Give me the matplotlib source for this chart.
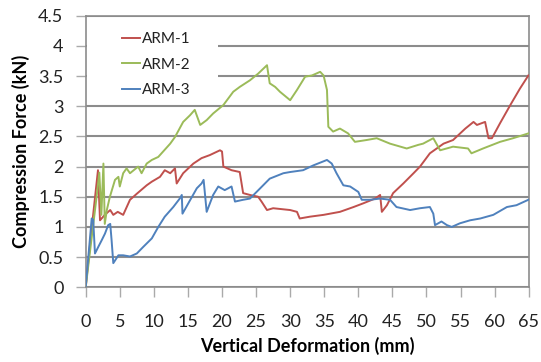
import matplotlib.pyplot as plt
from matplotlib.patches import Rectangle

plt.rcParams["font.family"] = ["Lato", "DejaVu Sans"]

# ARM-1 (deformation in mm, force in kN)
arm1_x = [0, 0.9, 1.8, 2.1, 2.8, 3.6, 4.05, 4.7, 5.5, 6.5, 7.5, 8.95, 9.7, 10.9, 11.6,
          12.4, 13.1, 13.35, 14.3, 15.8, 17.0, 18.2, 19.7, 20.0, 20.2, 21.4, 22.6, 23.1,
          24.1, 25.3, 25.8, 26.6, 27.5, 30.0, 31.0, 31.4, 32.9, 34.9, 37.3, 39.3, 40.7,
          42.45, 43.2, 43.45, 44.2, 45.1, 46.6, 48.1, 49.05, 50.5, 52.5, 53.9, 55.7,
          56.9, 57.4, 58.6, 59.1, 59.6, 60.8, 62.3, 63.7, 64.95]
arm1_y = [0, 1.0, 1.94, 1.11, 1.2, 1.28, 1.2, 1.25, 1.2, 1.45, 1.55, 1.69, 1.75, 1.83, 1.94,
          1.89, 1.97, 1.72, 1.89, 2.05, 2.14, 2.19, 2.27, 2.25, 2.0, 1.94, 1.91, 1.56,
          1.53, 1.5, 1.42, 1.28, 1.31, 1.28, 1.25, 1.14, 1.17, 1.2, 1.25, 1.33, 1.39,
          1.47, 1.53, 1.25, 1.36, 1.56, 1.72, 1.89, 2.0, 2.22, 2.38, 2.44, 2.63,
          2.74, 2.69, 2.74, 2.47, 2.47, 2.72, 3.02, 3.29, 3.51]

# ARM-2
arm2_x = [0, 1.6, 2.0, 2.3, 2.6, 2.8, 3.1, 3.55, 4.3, 4.8, 5.0, 5.5, 6.0, 6.5, 7.7, 8.2,
          8.95, 9.7, 10.65, 12.4, 13.1, 14.3, 15.3, 16.0, 16.8, 17.75, 18.7, 20.2, 21.65,
          22.6, 24.1, 25.3, 26.6, 27.0, 27.8, 28.5, 30.0, 31.0, 32.2, 33.2, 34.4, 34.9,
          35.4, 35.6, 36.3, 37.3, 38.5, 39.5, 41.2, 42.7, 44.65, 47.1, 48.8, 49.5, 51.0,
          52.0, 53.9, 56.1, 56.6, 58.3, 60.8, 62.7, 64.95]
arm2_y = [0, 1.5, 1.9, 1.2, 2.05, 1.05, 1.28, 1.5, 1.78, 1.83, 1.67, 1.89, 1.97, 1.89, 2.0, 1.89,
          2.05, 2.11, 2.16, 2.38, 2.49, 2.74, 2.85, 2.94, 2.69, 2.77, 2.88, 3.02, 3.24,
          3.32, 3.43, 3.54, 3.68, 3.38, 3.32, 3.24, 3.1, 3.27, 3.49, 3.51, 3.57, 3.51,
          3.27, 2.66, 2.58, 2.63, 2.55, 2.41, 2.44, 2.47, 2.38, 2.3, 2.36, 2.38, 2.47,
          2.27, 2.33, 2.3, 2.22, 2.3, 2.41, 2.47, 2.55]

# ARM-3
arm3_x = [0, 0.88, 1.1, 1.36, 1.85, 2.35, 2.83, 3.3, 3.6, 3.8, 4.05, 4.8, 5.5, 6.5, 7.5, 8.45,
          9.7, 10.65, 11.6, 12.85, 13.8, 14.1, 14.2, 16.3, 17.0, 17.3, 17.75, 18.7, 19.45,
          20.4, 21.4, 21.9, 23.1, 24.1, 25.6, 27.0, 29.0, 30.0, 31.9, 33.4, 35.4, 36.1,
          36.8, 37.8, 38.8, 40.0, 40.5, 41.7, 43.2, 44.65, 45.6, 47.6, 49.05, 50.5, 51.0,
          51.25, 52.2, 53.0, 53.7, 54.9, 56.4, 57.9, 59.8, 61.8, 63.2, 64.95]
arm3_y = [0, 1.14, 1.12, 0.56, 0.67, 0.78, 0.89, 1.03, 1.05, 0.78, 0.4, 0.53, 0.53, 0.51, 0.56, 0.67,
          0.81, 1.0, 1.17, 1.33, 1.47, 1.53, 1.22, 1.64, 1.72, 1.78, 1.25, 1.53, 1.67,
          1.61, 1.67, 1.42, 1.45, 1.47, 1.64, 1.8, 1.89, 1.91, 1.94, 2.02, 2.11, 2.05,
          1.89, 1.69, 1.67, 1.58, 1.45, 1.45, 1.47, 1.45, 1.33, 1.28, 1.31, 1.33, 1.22,
          1.03, 1.09, 1.03, 1.0, 1.06, 1.11, 1.14, 1.2, 1.33, 1.36, 1.45]

labels = ["ARM-1", "ARM-2", "ARM-3"]
colors = ["#C0504D", "#9BBB59", "#4F81BD"]
grid_color = "#8c8c8c"

fig = plt.figure(figsize=(5.41, 3.62), dpi=100)
ax = fig.add_axes([0.1584, 0.2064, 0.8189, 0.7502])

for xs, ys, lab, c in zip([arm1_x, arm2_x, arm3_x], [arm1_y, arm2_y, arm3_y], labels, colors):
    ax.plot(xs, ys, color=c, lw=1.4, label=lab, zorder=3)

ax.set_xlim(0, 65)
ax.set_ylim(0, 4.5)
ax.set_xticks(range(0, 66, 5))
ax.set_yticks([0, 0.5, 1, 1.5, 2, 2.5, 3, 3.5, 4, 4.5])
ax.set_yticklabels(["0", "0.5", "1", "1.5", "2", "2.5", "3", "3.5", "4", "4.5"])
ax.yaxis.grid(True, color=grid_color, lw=1.5, zorder=1)
ax.set_axisbelow(True)
for s in ax.spines.values():
    s.set_color(grid_color)
    s.set_linewidth(1.2)
ax.tick_params(axis="x", direction="out", length=7, width=1, color="#aaaaaa",
               labelsize=13, pad=12, labelcolor="#222222")
ax.tick_params(axis="y", direction="out", length=7, width=1, color="#aaaaaa",
               labelsize=13, pad=9, labelcolor="#222222")

ax.set_xlabel("Vertical Deformation (mm)", fontsize=13, fontweight="bold", labelpad=5)
ax.set_ylabel("Compression Force (kN)", fontsize=13, fontweight="bold", labelpad=6)

# white block behind the legend hides the grid lines there
ax.add_patch(Rectangle((0.003, 0.70), 0.295, 0.29, transform=ax.transAxes,
                       facecolor="white", edgecolor="none", zorder=2))
leg = ax.legend(loc="upper left", bbox_to_anchor=(0.05, 0.99), frameon=False,
                fontsize=11, handlelength=1.2, handletextpad=0.1, labelspacing=0.75)
for t in leg.get_texts():
    t.set_color("#222222")

fig.savefig("out.png", dpi=100)
